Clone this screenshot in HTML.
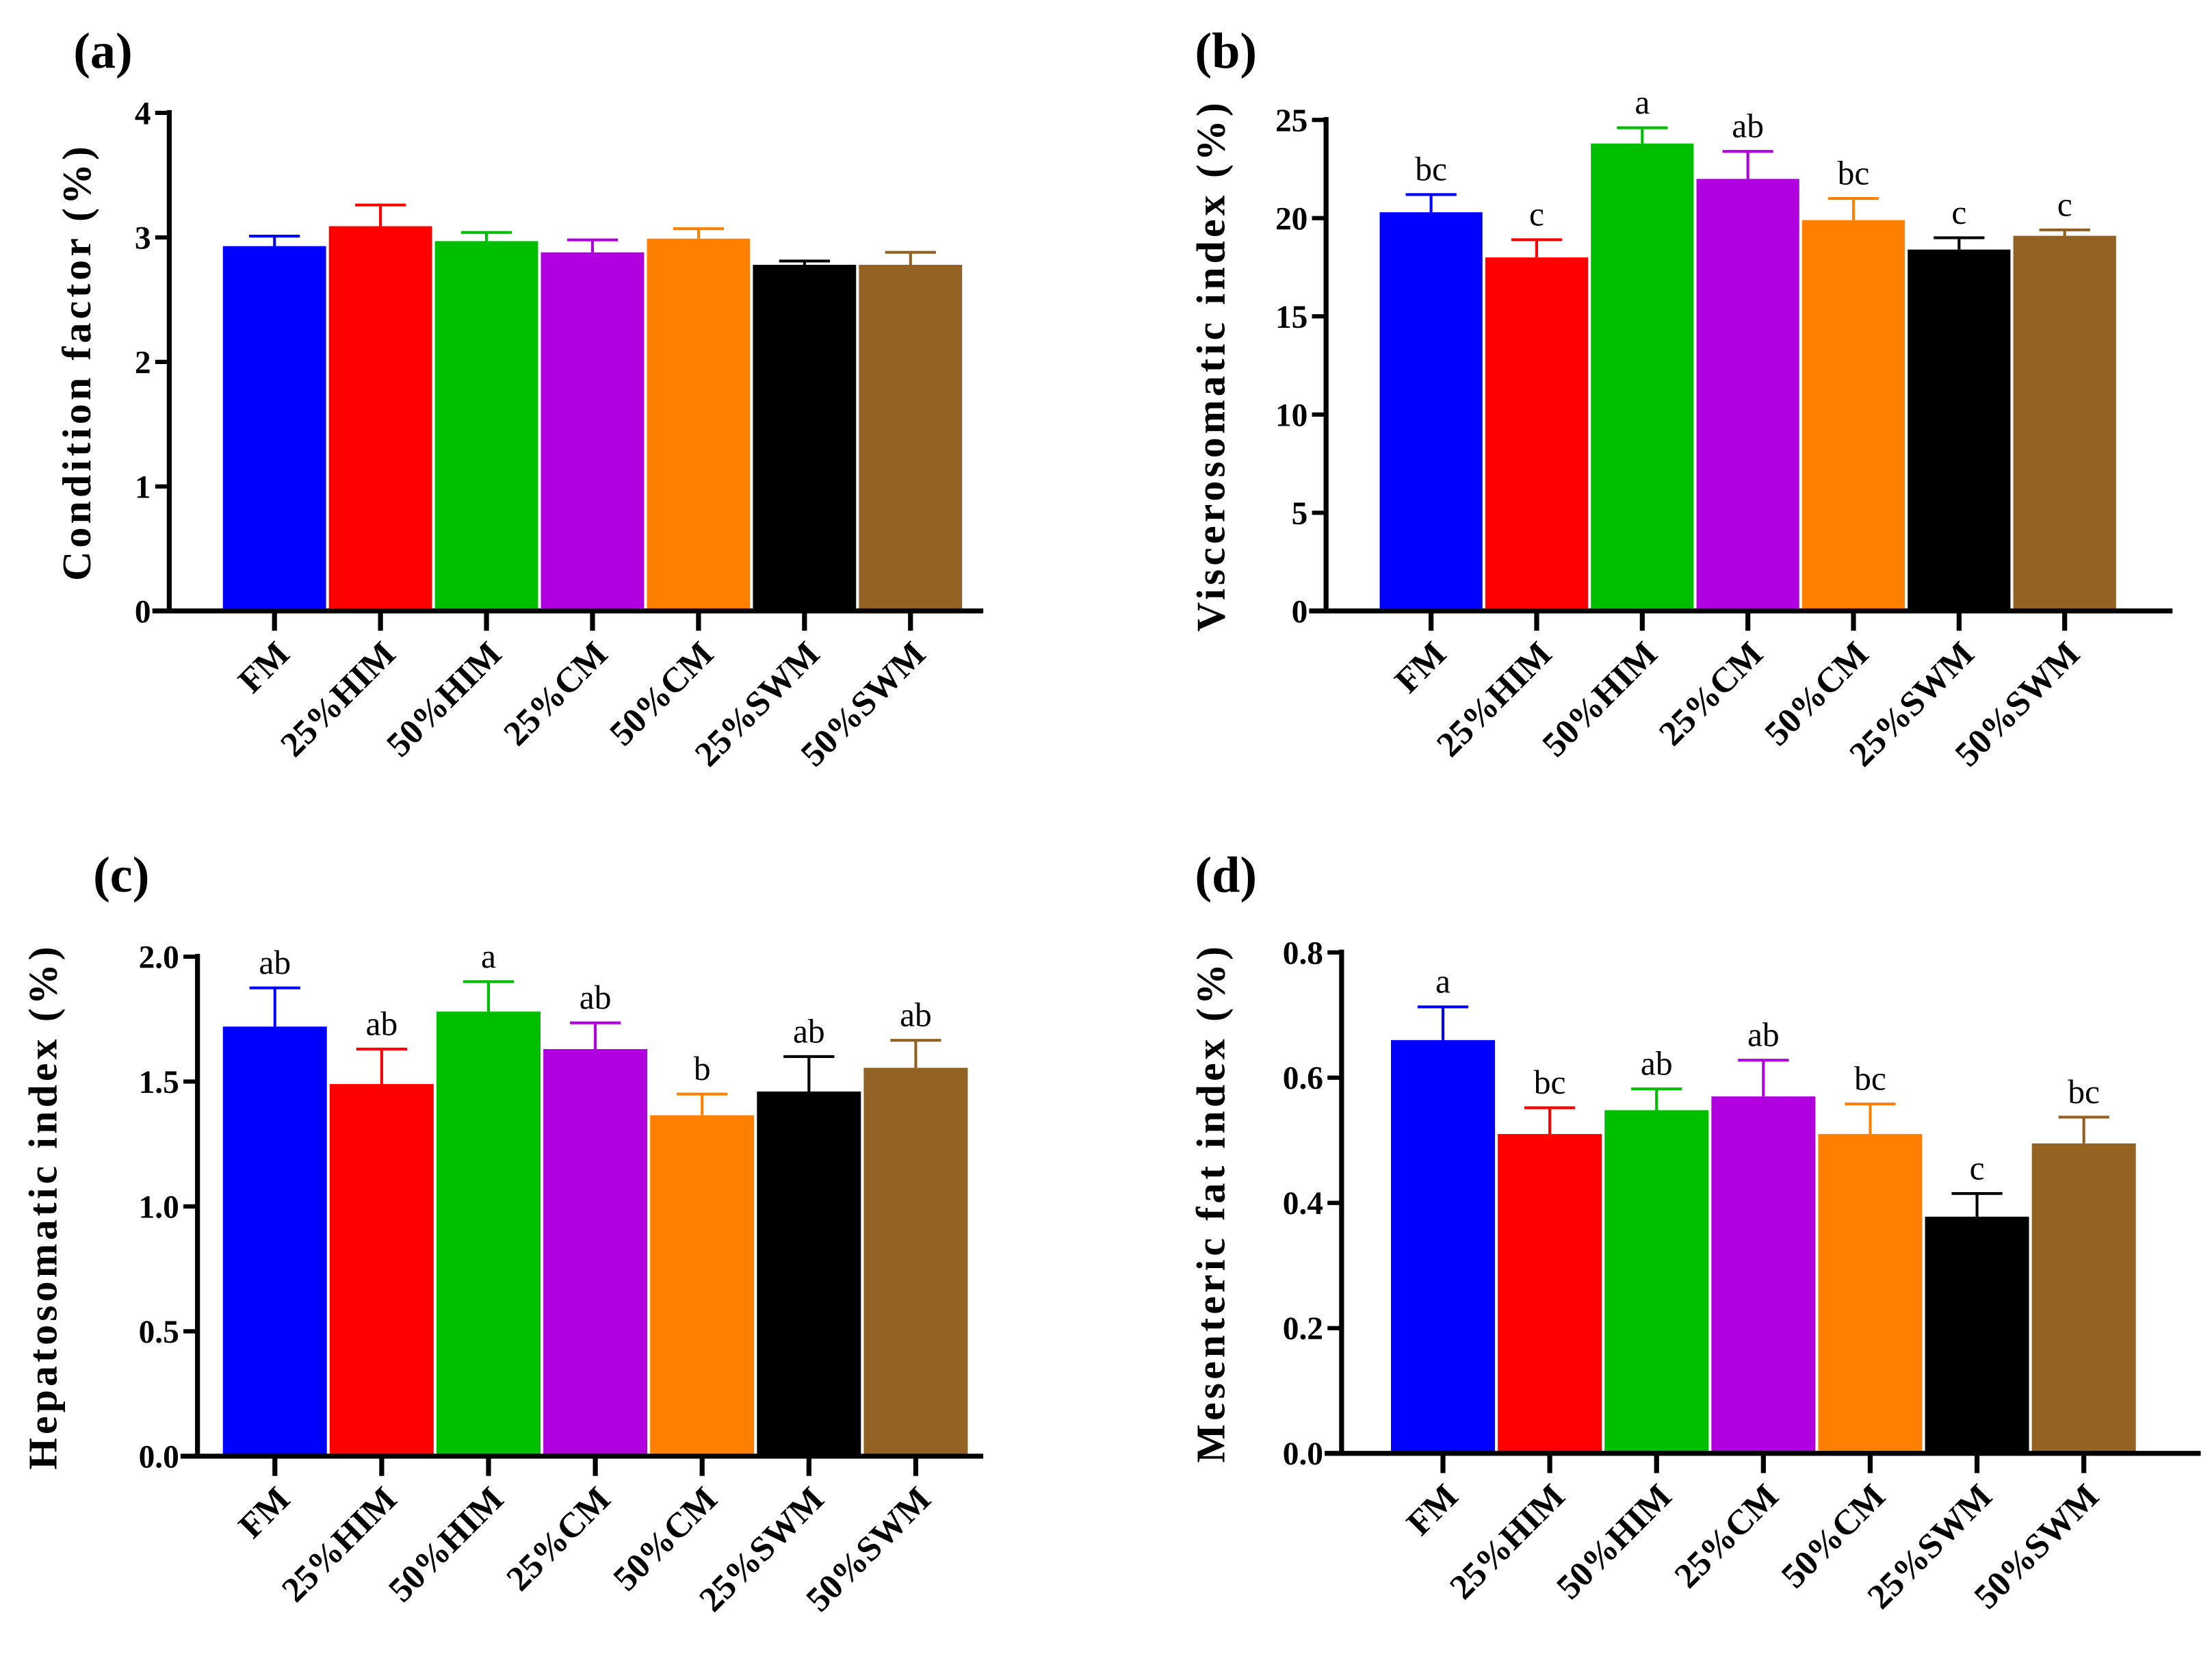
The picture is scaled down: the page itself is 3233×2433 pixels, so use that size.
<!DOCTYPE html>
<html><head><meta charset="utf-8"><style>
html,body{margin:0;padding:0;background:#fff;}
svg{display:block;}
</style></head><body>
<svg id="fig" width="3233" height="2433" viewBox="0 0 1568 1180" xmlns="http://www.w3.org/2000/svg" font-family="'Liberation Serif', serif"></svg>
<script>
const categories = ["FM","25%HIM","50%HIM","25%CM","50%CM","25%SWM","50%SWM"];
const colors = ["#0000ff","#ff0000","#00bf00","#b000e0","#ff8000","#000000","#936121"];
const valuesA = [2.93,3.09,2.97,2.88,2.99,2.78,2.78];
const errTopA = [3.01,3.26,3.04,2.98,3.07,2.81,2.88];
const valuesB = [20.3,18.0,23.8,22.0,19.9,18.4,19.1];
const errTopB = [21.2,18.9,24.6,23.4,21.0,19.0,19.4];
const lettersB = ["bc","c","a","ab","bc","c","c"];
const valuesC = [1.72,1.49,1.78,1.63,1.365,1.46,1.555];
const errTopC = [1.875,1.63,1.90,1.735,1.45,1.60,1.665];
const lettersC = ["ab","ab","a","ab","b","ab","ab"];
const valuesD = [0.66,0.51,0.548,0.57,0.51,0.378,0.495];
const errTopD = [0.713,0.552,0.582,0.628,0.558,0.415,0.537];
const lettersD = ["a","bc","ab","ab","bc","c","bc"];
const ticksA = [0,1,2,3,4];
const ticksB = [0,5,10,15,20,25];
const ticksC = [0,0.5,1.0,1.5,2.0];
const ticksD = [0,0.2,0.4,0.6,0.8];

const NS="http://www.w3.org/2000/svg";
const svg=document.getElementById('fig');
function mk(tag,attrs,parent,text){const e=document.createElementNS(NS,tag);for(const k in attrs)e.setAttribute(k,attrs[k]);if(text!==undefined)e.textContent=text;(parent||svg).appendChild(e);return e;}

function panel(o){
  const g=mk('g',{});
  
  
  const y=v=>o.bottom-(v-o.ticks[0])/(o.ticks[o.ticks.length-1]-o.ticks[0])*(o.bottom-o.top);
  const bw=(o.barsR-o.barsL)/categories.length;
  const x=i=>o.barsL+bw*(i+0.5);
  const lab=mk('text',{x:o.labX,y:o.labY,'font-size':36,'font-weight':'bold'},g,'('+o.id+')');
  
  
  categories.forEach((c,i)=>{
    const r=mk('rect',{x:x(i)-bw/2+1,y:y(o.vals[i]),width:bw-2,height:o.bottom-y(o.vals[i]),fill:colors[i]},g);
    
    
    const e=mk('path',{d:`M${x(i)} ${y(o.vals[i])}V${y(o.err[i])}M${x(i)-18} ${y(o.err[i])}H${x(i)+18}`,stroke:colors[i],'stroke-width':2,fill:'none'},g);
    
    
    if(o.letters){
      const t=mk('text',{x:x(i),y:y(o.err[i])-10,'font-size':24,'text-anchor':'middle'},g,o.letters[i]);
      
      
    }
    mk('line',{x1:x(i),x2:x(i),y1:o.bottom,y2:o.bottom+14,stroke:'#000','stroke-width':3.5},g);
    const ct=mk('text',{x:0,y:0,'font-size':25,'font-weight':'bold','text-anchor':'end',transform:`translate(${x(i)+12},${o.bottom+32}) rotate(-45)`},g,c);
    
    
  });
  o.ticks.forEach(t=>{
    mk('line',{x1:o.axisX-10,x2:o.axisX,y1:y(t),y2:y(t),stroke:'#000','stroke-width':3},g);
    const tl=mk('text',{x:o.axisX-13,y:y(t)+8,'font-size':23,'font-weight':'bold','text-anchor':'end'},g,o.fmt(t));
    
    
  });
  const ax=mk('path',{d:`M${o.axisX} ${o.top-2}V${o.bottom}M${o.axisX-12} ${o.bottom}H${o.axisR}`,stroke:'#000','stroke-width':3.5,fill:'none'},g);
  
  
  const yt=mk('text',{x:0,y:0,'font-size':29,'font-weight':'bold','letter-spacing':2.5,'text-anchor':'middle',transform:`translate(${o.titleX},${(o.top+o.bottom)/2}) rotate(-90)`},g,o.title);
  
  
}
panel({id:'a',vals:valuesA,err:errTopA,ticks:ticksA,fmt:t=>String(t),top:80,bottom:433,axisX:120,axisR:697,barsL:157,barsR:683,labX:52,labY:48,titleX:64,title:'Condition factor (%)'});
panel({id:'b',vals:valuesB,err:errTopB,letters:lettersB,ticks:ticksB,fmt:t=>String(t),top:85,bottom:433,axisX:940,axisR:1540,barsL:977,barsR:1501,labX:847,labY:48,titleX:868,title:'Viscerosomatic index (%)'});
panel({id:'c',vals:valuesC,err:errTopC,letters:lettersC,ticks:ticksC,fmt:t=>t.toFixed(1),top:678,bottom:1032,axisX:140,axisR:697,barsL:157,barsR:687,labX:66,labY:632,titleX:40,title:'Hepatosomatic index (%)'});
panel({id:'d',vals:valuesD,err:errTopD,letters:lettersD,ticks:ticksD,fmt:t=>t.toFixed(1),top:675,bottom:1030,axisX:951,axisR:1560,barsL:985,barsR:1515,labX:847,labY:632,titleX:868,title:'Mesenteric fat index (%)'});
</script>
</body></html>
